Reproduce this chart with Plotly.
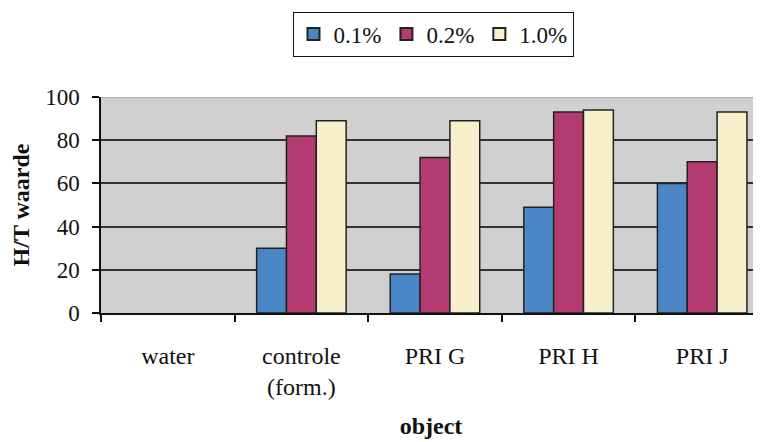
import plotly.graph_objects as go

categories = ["water", "controle<br>(form.)", "PRI G", "PRI H", "PRI J"]
series_names = ["0.1%", "0.2%", "1.0%"]
values_01 = [None, 30, 18, 49, 60]
values_02 = [None, 82, 72, 93, 70]
values_10 = [None, 89, 89, 94, 93]
colors = ["#4a86c5", "#b43a72", "#f8f0cc"]

FONT = "Liberation Serif, Times New Roman, serif"

fig = go.Figure()
for name, vals, col in zip(series_names, [values_01, values_02, values_10], colors):
    fig.add_trace(go.Bar(
        x=categories, y=vals, name=name,
        marker=dict(color=col, line=dict(color="#222222", width=1.5)),
    ))

W, H = 761, 442
OFF = 8  # page offset of the figure in the screenshot
L, T = 99 - OFF, 97 - OFF
B = H - (313 - OFF)
R = OFF
cat_px = 134.0
x_max = -0.5 + (W - L - R) / cat_px

fig.update_layout(
    width=W, height=H,
    margin=dict(l=L, r=R, t=T, b=B, pad=0),
    paper_bgcolor="white",
    plot_bgcolor="#d0d0d0",
    barmode="group",
    bargap=0.33,
    bargroupgap=0,
    font=dict(family=FONT, size=24, color="#111111"),
    showlegend=True,
    legend=dict(
        orientation="h",
        xref="container", yref="container",
        x=(433 - OFF) / W, y=1 - (34 - OFF) / H,
        xanchor="center", yanchor="middle",
        bordercolor="#111111", borderwidth=1,
        bgcolor="white",
        font=dict(family=FONT, size=23),
        itemsizing="constant",
        tracegroupgap=0,
    ),
    xaxis=dict(
        range=[-0.5, x_max],
        showline=True, linecolor="#111111", linewidth=1.5,
        ticks="outside", tickson="boundaries", ticklen=7, tickcolor="#111111", tickwidth=1.5,
        showgrid=False,
        tickfont=dict(family=FONT, size=24),
        ticklabelstandoff=20,
        title=dict(text="<b>object</b>", font=dict(family=FONT, size=24), standoff=18),
        fixedrange=True,
    ),
    yaxis=dict(
        range=[0, 100],
        tick0=0, dtick=20,
        showline=True, linecolor="#111111", linewidth=1.5,
        ticks="outside", ticklen=7, tickcolor="#111111", tickwidth=1.5,
        showgrid=True, gridcolor="#333333", gridwidth=1.5,
        zeroline=False,
        tickfont=dict(family=FONT, size=23),
        ticklabelstandoff=8,
        title=dict(text="<b>H/T waarde</b>", font=dict(family=FONT, size=24), standoff=12),
        fixedrange=True,
    ),
    shapes=[dict(
        type="line", xref="paper", yref="y", x0=0, x1=1, y0=100, y1=100,
        line=dict(color="#a0a0a0", width=1.5), layer="above",
    )],
)

fig.write_html("out.html")
